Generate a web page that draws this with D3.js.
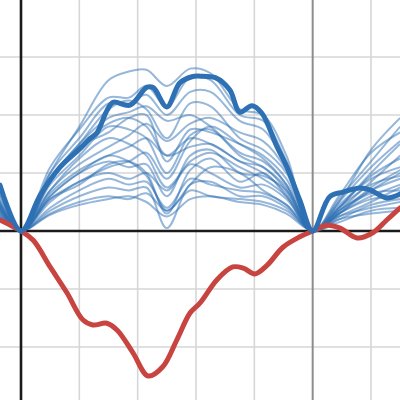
<!DOCTYPE html>
<html><head><meta charset="utf-8">
<script src="https://cdn.jsdelivr.net/npm/d3@7"></script>
<style>html,body{margin:0;padding:0;background:#fff;}svg{display:block;}</style>
</head><body>
<svg id="chart" width="400" height="400"></svg>
<script>
// grid positions (data units)
const gridX = [1, 2, 3, 4, 6];
const markerX = [5];
const gridY = [-2, -1, 1, 2, 3];

// thin blue family sampled at common x positions
const thinX = [-0.4, 0, 0.5, 1, 1.5, 1.85, 2.15, 2.5, 2.9, 3.25, 3.75, 4.15, 4.55, 5, 5.45, 6, 6.5];
const thinSeries = [
  [0.75, 0, 1.0, 1.8, 2.6, 2.75, 2.78, 2.5, 2.8, 2.72, 2.1, 2.0, 1.3, 0, 0.5, 1.4, 1.95],
  [0.7, 0, 1.1, 1.75, 2.3, 2.3, 2.5, 2.15, 2.65, 2.6, 2.0, 1.9, 1.2, 0, 0.55, 1.2, 1.8],
  [0.6, 0, 1.0, 1.6, 2.2, 2.2, 2.35, 2.0, 2.4, 2.4, 1.9, 1.75, 1.1, 0, 0.6, 1.35, 1.7],
  [0.55, 0, 0.9, 1.5, 2.1, 2.25, 2.1, 1.6, 2.2, 2.15, 1.6, 1.4, 1.0, 0, 0.4, 1.0, 1.5],
  [0.5, 0, 0.85, 1.45, 1.7, 1.95, 2.0, 1.2, 1.75, 1.7, 1.5, 1.3, 0.9, 0, 0.35, 0.85, 1.3],
  [0.55, 0, 0.8, 1.3, 1.8, 1.75, 1.6, 1.0, 1.65, 1.75, 1.3, 1.1, 0.75, 0, 0.45, 0.9, 1.1],
  [0.45, 0, 0.85, 1.45, 1.85, 1.95, 1.8, 1.3, 1.45, 1.5, 1.2, 1.1, 0.7, 0, 0.3, 0.7, 1.0],
  [0.5, 0, 0.55, 0.85, 1.1, 1.2, 1.35, 0.9, 1.55, 1.8, 1.5, 1.25, 0.8, 0, 0.4, 0.8, 0.95],
  [0.45, 0, 0.6, 1.0, 1.2, 1.1, 1.15, 0.6, 1.3, 1.4, 1.0, 0.95, 0.7, 0, 0.3, 0.6, 0.8],
  [0.4, 0, 0.55, 0.8, 1.15, 1.2, 1.0, 0.3, 1.05, 1.25, 0.85, 1.0, 0.6, 0, 0.35, 0.65, 0.7],
  [0.35, 0, 0.5, 0.85, 1.0, 0.9, 1.0, 0.7, 1.15, 1.0, 0.75, 0.8, 0.55, 0, 0.25, 0.5, 0.75],
  [0.35, 0, 0.6, 1.0, 1.3, 1.2, 0.95, 0.35, 0.8, 1.1, 1.0, 0.7, 0.45, 0, 0.3, 0.55, 0.6],
  [0.3, 0, 0.4, 0.7, 0.9, 0.8, 0.85, 0.4, 0.9, 0.8, 0.7, 0.65, 0.45, 0, 0.2, 0.45, 0.55],
  [0.3, 0, 0.35, 0.6, 0.75, 0.7, 0.75, 0.05, 0.8, 0.85, 0.6, 0.6, 0.4, 0, 0.25, 0.4, 0.5],
  [0.25, 0, 0.3, 0.5, 0.6, 0.55, 0.65, 0.35, 0.7, 0.6, 0.55, 0.5, 0.35, 0, 0.15, 0.35, 0.4],
  [0.25, 0, 0.28, 0.45, 0.55, 0.6, 0.5, 0.25, 0.55, 0.6, 0.5, 0.45, 0.3, 0, 0.2, 0.3, 0.35],
  [0.6, 0, 0.9, 1.5, 1.95, 2.05, 2.15, 1.9, 2.0, 1.8, 1.35, 1.2, 0.8, 0, 0.5, 1.1, 1.55],
  [0.5, 0, 0.7, 1.15, 1.45, 1.65, 1.85, 1.55, 1.85, 1.95, 1.7, 1.55, 1.05, 0, 0.4, 0.95, 1.25],
  [0.4, 0, 0.65, 1.05, 1.3, 1.45, 1.6, 1.3, 1.6, 1.5, 1.2, 1.0, 0.65, 0, 0.3, 0.75, 1.05],
  [0.45, 0, 0.7, 1.25, 1.6, 1.5, 1.3, 0.75, 1.2, 1.35, 1.1, 0.9, 0.6, 0, 0.35, 0.7, 0.9]
];

// thick blue series
const thickX = [-0.36, 0, 0.33, 0.67, 1.0, 1.19, 1.3, 1.48, 1.58, 1.87, 2.16, 2.27, 2.5, 2.72, 2.93, 3.07, 3.34, 3.58, 3.75, 3.96, 4.13, 4.39, 4.56, 4.78, 5.0, 5.29, 5.52, 5.81, 5.98, 6.27, 6.5];
const thickY = [0.79, 0, 0.62, 1.1, 1.41, 1.6, 1.69, 2.09, 2.22, 2.17, 2.48, 2.47, 2.14, 2.55, 2.66, 2.67, 2.64, 2.43, 2.05, 2.16, 2.03, 1.45, 1.1, 0.53, 0, 0.59, 0.67, 0.74, 0.71, 0.57, 0.64];

// red series
const redX = [-0.36, 0, 0.21, 0.5, 0.79, 1.06, 1.23, 1.47, 1.65, 1.92, 2.18, 2.43, 2.67, 2.9, 3.07, 3.36, 3.63, 3.81, 4.01, 4.22, 4.49, 4.78, 5.0, 5.25, 5.47, 5.76, 6.03, 6.27, 6.5];
const redY = [0.19, 0, -0.16, -0.62, -1.07, -1.53, -1.62, -1.59, -1.71, -2.1, -2.5, -2.34, -1.88, -1.41, -1.24, -0.84, -0.62, -0.64, -0.74, -0.59, -0.28, -0.1, 0, 0.1, 0.05, -0.12, -0.03, 0.19, 0.4];

const W = 400, H = 400;
const x = d3.scaleLinear().domain([-0.36, 6.497]).range([0, W]);
const y = d3.scaleLinear().domain([3.983, -2.914]).range([0, H]);

const svg = d3.select("#chart");
svg.append("rect").attr("width", W).attr("height", H).attr("fill", "#fff");

const g = svg.append("g");
g.selectAll("line.gx").data(gridX).join("line")
  .attr("x1", d => x(d)).attr("x2", d => x(d)).attr("y1", 0).attr("y2", H)
  .attr("stroke", "#d6d6d6").attr("stroke-width", 1.6);
g.selectAll("line.gy").data(gridY).join("line")
  .attr("y1", d => y(d)).attr("y2", d => y(d)).attr("x1", 0).attr("x2", W)
  .attr("stroke", "#d6d6d6").attr("stroke-width", 1.6);
g.selectAll("line.mx").data(markerX).join("line")
  .attr("x1", d => x(d)).attr("x2", d => x(d)).attr("y1", 0).attr("y2", H)
  .attr("stroke", "#8c8c8c").attr("stroke-width", 2);

// axes
svg.append("line").attr("x1", 0).attr("x2", W).attr("y1", y(0)).attr("y2", y(0))
  .attr("stroke", "#1a1a1a").attr("stroke-width", 2.6);
svg.append("line").attr("x1", x(0)).attr("x2", x(0)).attr("y1", 0).attr("y2", H)
  .attr("stroke", "#1a1a1a").attr("stroke-width", 2.6);

const line = d3.line().x(d => x(d[0])).y(d => y(d[1])).curve(d3.curveCatmullRom.alpha(0.5));

svg.append("g").selectAll("path").data(thinSeries).join("path")
  .attr("d", s => line(thinX.map((xv, i) => [xv, s[i]])))
  .attr("fill", "none").attr("stroke", "#2d70b3").attr("stroke-opacity", 0.5)
  .attr("stroke-width", 2).attr("stroke-linejoin", "round");

svg.append("path").attr("d", line(redX.map((xv, i) => [xv, redY[i]])))
  .attr("fill", "none").attr("stroke", "#c74440").attr("stroke-width", 5)
  .attr("stroke-linejoin", "round").attr("stroke-linecap", "round");

svg.append("path").attr("d", line(thickX.map((xv, i) => [xv, thickY[i]])))
  .attr("fill", "none").attr("stroke", "#2d70b3").attr("stroke-width", 5)
  .attr("stroke-linejoin", "round").attr("stroke-linecap", "round");
</script>
</body></html>
